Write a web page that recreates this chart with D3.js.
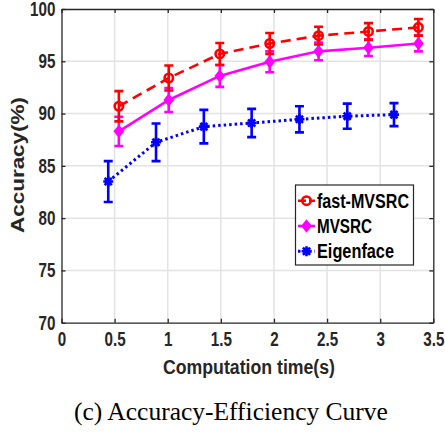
<!DOCTYPE html>
<html><head><meta charset="utf-8">
<script src="https://cdn.jsdelivr.net/npm/d3@7"></script>
<style>
html,body{margin:0;padding:0;background:#fff;}
svg{display:block;}
.tk{font-family:"Liberation Sans",Arial,Helvetica,sans-serif;font-weight:bold;}
</style></head>
<body>
<script>
const xTicks = [0, 0.5, 1, 1.5, 2, 2.5, 3, 3.5];
const xTickLabels = ["0", "0.5", "1", "1.5", "2", "2.5", "3", "3.5"];
const yTicks = [70, 75, 80, 85, 90, 95, 100];
const seriesNames = ["fast-MVSRC", "MVSRC", "Eigenface"];
const timeMVSRC = [0.54, 1.01, 1.49, 1.96, 2.42, 2.89, 3.36];
const timeEigen = [0.44, 0.89, 1.34, 1.79, 2.24, 2.69, 3.13];
const accFast = [90.7, 93.4, 95.7, 96.7, 97.45, 97.85, 98.25];
const errFast = [1.45, 1.2, 1.05, 1.0, 0.85, 0.8, 0.8];
const accMVSRC = [88.3, 91.3, 93.6, 94.95, 95.95, 96.3, 96.7];
const errMVSRC = [1.4, 1.15, 1.05, 1.0, 0.85, 0.8, 0.75];
const accEigen = [83.5, 87.25, 88.75, 89.1, 89.45, 89.75, 89.9];
const errEigen = [1.95, 1.8, 1.6, 1.35, 1.25, 1.2, 1.1];

const W = 445, H = 432;
const m = {left: 61.5, right: 445 - 433.3, top: 9, bottom: 432 - 322.7};
const svg = d3.select("body").append("svg").attr("width", W).attr("height", H);
const x = d3.scaleLinear().domain([0, 3.5]).range([m.left, W - m.right]);
const y = d3.scaleLinear().domain([70, 100]).range([H - m.bottom, m.top]);

// grid
const g = svg.append("g");
g.selectAll(".vg").data(xTicks.slice(1, -1)).enter().append("line")
  .attr("x1", d => x(d)).attr("x2", d => x(d)).attr("y1", y(70)).attr("y2", y(100))
  .attr("stroke", "#e3e3e3").attr("stroke-width", 1.5);
g.selectAll(".hg").data(yTicks.slice(1, -1)).enter().append("line")
  .attr("x1", x(0)).attr("x2", x(3.5)).attr("y1", d => y(d)).attr("y2", d => y(d))
  .attr("stroke", "#e3e3e3").attr("stroke-width", 1.5);

// axes (MATLAB style, inward ticks, box)
const axCol = "#262626";
const SX = 0.76;
const xAxis = d3.axisBottom(x).tickValues(xTicks).tickFormat((d, i) => xTickLabels[i]).tickSizeInner(-4).tickSizeOuter(0).tickPadding(9);
const xTop = d3.axisTop(x).tickValues(xTicks).tickFormat("").tickSizeInner(-4).tickSizeOuter(0);
const yAxis = d3.axisLeft(y).tickValues(yTicks).tickSizeInner(-4).tickSizeOuter(0).tickPadding(8);
const yRight = d3.axisRight(y).tickValues(yTicks).tickFormat("").tickSizeInner(-4).tickSizeOuter(0);
function style(sel) {
  sel.select(".domain").attr("stroke", axCol).attr("stroke-width", 1.3);
  sel.selectAll(".tick line").attr("stroke", axCol).attr("stroke-width", 1.3);
  sel.selectAll("text").attr("class", "tk").attr("fill", axCol).style("font-size", "20px")
    .attr("transform", `scale(${SX},1)`);
}
svg.append("g").attr("transform", `translate(0,${y(70)})`).call(xAxis).call(style);
svg.append("g").attr("transform", `translate(0,${y(100)})`).call(xTop).call(style);
svg.append("g").attr("transform", `translate(${x(0)},0)`).call(yAxis).call(style);
svg.append("g").attr("transform", `translate(${x(3.5)},0)`).call(yRight).call(style);

// axis labels
svg.append("text").attr("class", "tk").attr("x", 249).attr("y", 374).attr("text-anchor", "middle")
  .attr("fill", axCol).style("font-size", "19.5px")
  .attr("textLength", 172).attr("lengthAdjust", "spacingAndGlyphs").text("Computation time(s)");
svg.append("text").attr("class", "tk").attr("transform", "translate(24,165) rotate(-90)").attr("text-anchor", "middle")
  .attr("fill", axCol).style("font-size", "18.5px")
  .attr("textLength", 136).attr("lengthAdjust", "spacingAndGlyphs").text("Accuracy(%)");

// series
const series = [
  {name: seriesNames[0], xs: timeMVSRC, ys: accFast, es: errFast, color: "#ff0000", dash: "10,6", marker: "circle", tl: 92},
  {name: seriesNames[1], xs: timeMVSRC, ys: accMVSRC, es: errMVSRC, color: "#ff00ff", dash: null, marker: "diamond", tl: 55},
  {name: seriesNames[2], xs: timeEigen, ys: accEigen, es: errEigen, color: "#0000ff", dash: "2.5,3", marker: "star", tl: 77}
];

function drawMarker(sel, type, color, cx, cy) {
  if (type === "circle") {
    sel.append("circle").attr("cx", cx).attr("cy", cy).attr("r", 4.2)
      .attr("fill", "none").attr("stroke", color).attr("stroke-width", 2.6);
  } else if (type === "diamond") {
    const s = 5.5;
    sel.append("path").attr("d", `M${cx},${cy - s}L${cx + s * 0.8},${cy}L${cx},${cy + s}L${cx - s * 0.8},${cy}Z`)
      .attr("fill", color).attr("stroke", color).attr("stroke-width", 1.5);
  } else {
    const s = 5, d = s * 0.72;
    const p = `M${cx - s},${cy}L${cx + s},${cy}M${cx},${cy - s}L${cx},${cy + s}M${cx - d},${cy - d}L${cx + d},${cy + d}M${cx - d},${cy + d}L${cx + d},${cy - d}`;
    sel.append("path").attr("d", p).attr("stroke", color).attr("stroke-width", 2.6).attr("fill", "none");
    sel.append("circle").attr("cx", cx).attr("cy", cy).attr("r", 3).attr("fill", color);
  }
}

series.slice().reverse().forEach(s => {
  const gs = svg.append("g");
  const pts = s.xs.map((v, i) => [v, s.ys[i], s.es[i]]);
  pts.forEach(p => {
    const cx = x(p[0]);
    gs.append("path")
      .attr("d", `M${cx},${y(p[1] - p[2])}L${cx},${y(p[1] + p[2])}M${cx - 4.5},${y(p[1] - p[2])}L${cx + 4.5},${y(p[1] - p[2])}M${cx - 4.5},${y(p[1] + p[2])}L${cx + 4.5},${y(p[1] + p[2])}`)
      .attr("stroke", s.color).attr("stroke-width", 2.6).attr("fill", "none");
  });
  const line = d3.line().x(d => x(d[0])).y(d => y(d[1]));
  gs.append("path").datum(pts).attr("d", line).attr("fill", "none")
    .attr("stroke", s.color).attr("stroke-width", s.marker === "star" ? 3 : 2.6)
    .attr("stroke-dasharray", s.dash);
  pts.forEach(p => drawMarker(gs, s.marker, s.color, x(p[0]), y(p[1])));
});

// legend
const lg = svg.append("g");
lg.append("rect").attr("x", 295.5).attr("y", 185).attr("width", 118).attr("height", 80)
  .attr("fill", "#fff").attr("stroke", axCol).attr("stroke-width", 1.2);
series.forEach((s, i) => {
  const cy = 200.7 + i * 25.3;
  lg.append("line").attr("x1", 298).attr("x2", 315).attr("y1", cy).attr("y2", cy)
    .attr("stroke", s.color).attr("stroke-width", s.marker === "star" ? 3 : 2.6)
    .attr("stroke-dasharray", s.dash === "10,6" ? "8,3" : s.dash);
  drawMarker(lg, s.marker, s.color, 306.5, cy);
  lg.append("text").attr("class", "tk").attr("x", 317).attr("y", cy + 7)
    .attr("fill", "#000").style("font-size", "20px")
    .attr("textLength", s.tl).attr("lengthAdjust", "spacingAndGlyphs").text(s.name);
});

// caption
svg.append("text").attr("x", 231).attr("y", 420).attr("text-anchor", "middle")
  .attr("font-family", "'Liberation Serif','Times New Roman',serif").style("font-size", "25.5px")
  .attr("fill", "#000").text("(c)  Accuracy-Efficiency Curve");
</script>
</body></html>
